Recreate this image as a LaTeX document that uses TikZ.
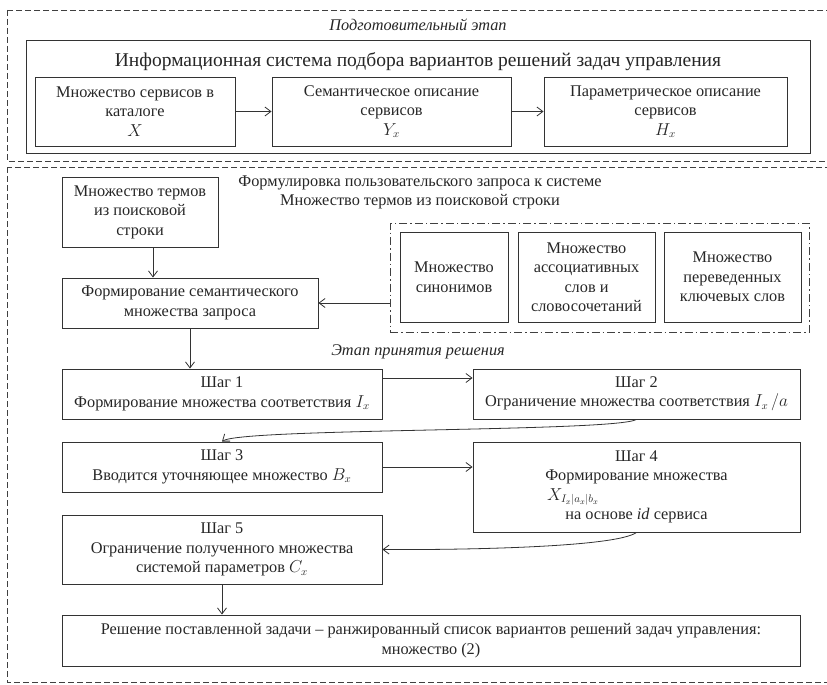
\documentclass[tikz,border=0pt]{standalone}
\usepackage{fontspec}
\setmainfont{Liberation Serif}
\usetikzlibrary{arrows.meta}

\tikzset{
  blok/.style={draw=black!80, line width=0.9pt, align=center, inner sep=2pt,
    text=black!85, font=\fontsize{16.3}{19.5}\selectfont},
  strelka/.style={-{Straight Barb[length=6pt,width=9pt]}, draw=black!80, line width=0.8pt},
  ramka/.style={draw=black!75, line width=0.8pt, dash pattern=on 6pt off 3pt},
  podpis/.style={align=center, text=black!85, font=\fontsize{16.3}{19.5}\selectfont},
}

\begin{document}
\begin{tikzpicture}[x=1pt, y=-1pt] %Схема подбора вариантов решений
  \useasboundingbox (0,0) rectangle (827,685);
  \clip (0,0) rectangle (827,685);

  % подготовительный этап
  \draw[ramka] (7,10) rectangle (840,161);
  \node[podpis, font=\fontsize{16.3}{19.5}\selectfont\itshape] (prep) at (418,25) {Подготовительный этап};
  \draw[draw=black!80, line width=0.9pt] (26,40) rectangle (810,153);
  \node[podpis, font=\fontsize{19.5}{23}\selectfont] (sys) at (418,62)
    {Информационная система подбора вариантов решений задач управления};

  \node[blok, minimum width=200pt, minimum height=69pt] (serv) at (135,111.5)
    {Множество сервисов в\\каталоге\\$X$};
  \node[blok, minimum width=239pt, minimum height=69pt] (sem) at (391.5,111.5)
    {Семантическое описание\\сервисов\\$Y_x$};
  \node[blok, minimum width=243pt, minimum height=69pt] (par) at (665.5,111.5)
    {Параметрическое описание\\сервисов\\$H_x$};

  \draw[strelka] (serv) -- (sem);
  \draw[strelka] (sem) -- (par);

  % этап принятия решения
  \draw[ramka] (7,167) rectangle (840,682);

  \node[blok, minimum width=156pt, minimum height=70pt] (terms) at (140,212)
    {Множество термов\\из поисковой\\строки};
  \node[podpis] (query) at (420,192.5)
    {Формулировка пользовательского запроса к системе\\Множество термов из поисковой строки};

  \node[draw=black!75, line width=0.8pt, dash pattern=on 8pt off 3pt on 1.5pt off 3pt,
    minimum width=419pt, minimum height=109pt] (expand) at (599.5,277.5) {};
  \node[blok, minimum width=108pt, minimum height=90pt] (syn) at (454,277)
    {Множество\\синонимов};
  \node[blok, minimum width=137pt, minimum height=90pt] (assoc) at (586.5,277)
    {Множество\\ассоциативных\\слов и\\словосочетаний};
  \node[blok, minimum width=137pt, minimum height=90pt] (transl) at (732.5,277)
    {Множество\\переведенных\\ключевых слов};

  \node[blok, minimum width=256pt, minimum height=50pt] (form) at (190,303)
    {Формирование семантического\\множества запроса};

  \node[podpis, font=\fontsize{16.3}{19.5}\selectfont\itshape] (decide) at (418,352) {Этап принятия решения};

  \node[blok, minimum width=320pt, minimum height=50pt] (s1) at (222,394)
    {Шаг 1\\Формирование множества соответствия $I_x$};
  \node[blok, minimum width=327pt, minimum height=50pt] (s2) at (636.5,394)
    {Шаг 2\\Ограничение множества соответствия $I_x\,/a$};
  \node[blok, minimum width=320pt, minimum height=50pt] (s3) at (222,467)
    {Шаг 3\\Вводится уточняющее множество $B_x$};
  \node[blok, minimum width=327pt, minimum height=90pt] (s4) at (636.5,487)
    {Шаг 4\\Формирование множества\\\hspace*{-127pt}$X_{I_x|a_x|b_x}$\\на основе \textit{id} сервиса};
  \node[blok, minimum width=320pt, minimum height=69pt] (s5) at (222,549.5)
    {Шаг 5\\Ограничение полученного множества\\системой параметров $C_x$};
  \node[blok, minimum width=738pt, minimum height=51pt] (res) at (431,640.5)
    {Решение поставленной задачи -- ранжированный список вариантов решений задач управления:\\множество (2)};

  \draw[strelka] ([xshift=13pt]terms.south) -- ([xshift=13pt]terms.south |- form.north);
  \draw[strelka] (expand.west |- form.east) -- (form.east);
  \draw[strelka] (form.south) -- (form.south |- s1.north);
  \draw[strelka] ([yshift=16pt]s1.east) -- ([yshift=16pt]s2.west);
  \draw[strelka] (s2.south) .. controls (615,432) and (240,428) .. (s3.north);
  \draw[strelka] (s3.east) -- (s3.east -| s4.west);
  \draw[strelka] (s4.south) .. controls (615,548) and (450,550) .. (s5.east);
  \draw[strelka] (s5.south) -- (s5.south |- res.north);
\end{tikzpicture}
\end{document}
